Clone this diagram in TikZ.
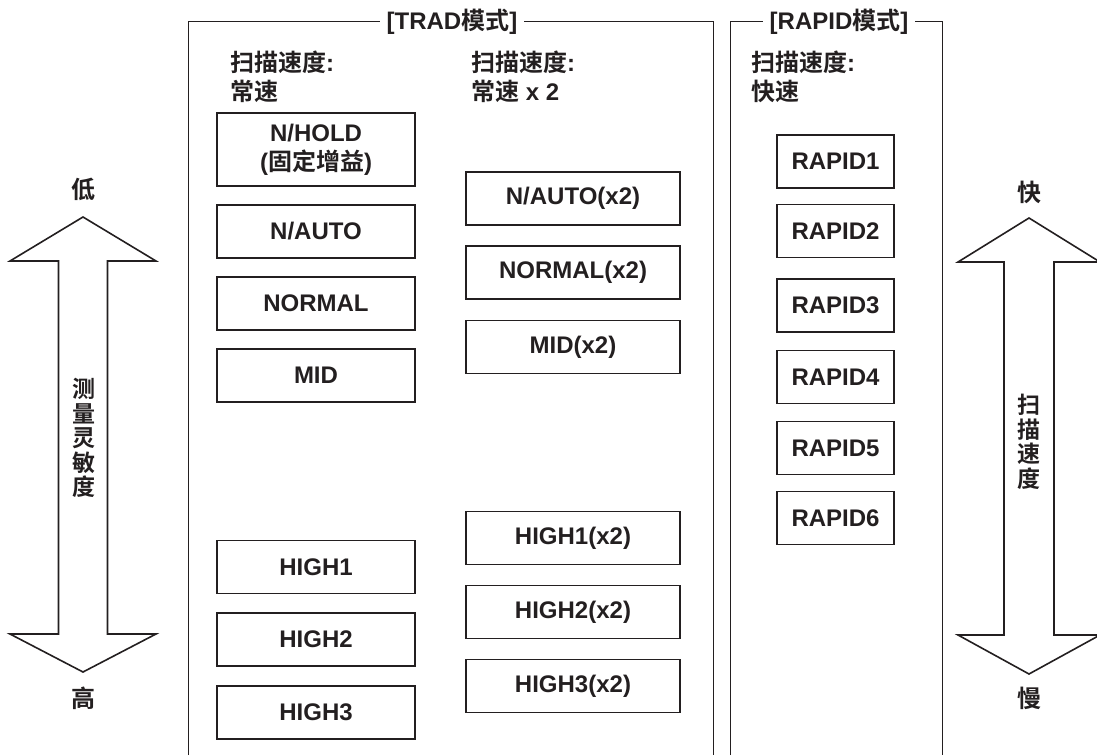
\documentclass[tikz,border=0pt]{standalone}
\usepackage{fontspec}
\setmainfont{Liberation Sans}
\newfontfamily\cjk{Noto Sans CJK SC}[BoldFont={Noto Sans CJK SC Bold}]
\definecolor{ink}{RGB}{35,31,32}
\begin{document}
\begin{tikzpicture}[x=1pt, y=-1pt,
    every node/.style={font=\bfseries\fontsize{24}{29}\selectfont, text=ink},
    modebox/.style={draw=ink, line width=1.5pt, inner sep=0pt, minimum height=53pt},
    tradbox/.style={modebox, minimum width=198pt},
    fastbox/.style={modebox, minimum width=214pt},
    rapidbox/.style={modebox, minimum width=117pt},
    frameline/.style={draw=ink, line width=0.9pt},
    bigarrow/.style={draw=ink, line width=1.6pt, line join=miter},
    modetitle/.style={fill=white, inner xsep=7pt, inner ysep=2pt},
    header/.style={anchor=west, align=left, inner sep=0pt},
    vtext/.style={align=center, inner sep=0pt, font=\bfseries\cjk\fontsize{23}{24.5}\selectfont}]
    \useasboundingbox (0,0) rectangle (1097,755);

    % Рамки режимов (снизу открыты)
    \draw[frameline] (188,755) -- (188,21) -- (713,21) -- (713,755);
    \draw[frameline] (730,755) -- (730,21) -- (942,21) -- (942,755);
    \node[modetitle] (tradTitle) at (452,22) {[TRAD{\cjk 模式}]};
    \node[modetitle] (rapidTitle) at (839,22) {[RAPID{\cjk 模式}]};

    % Заголовки колонок
    \node[header] (hdrNormal) at (230,77) {{\cjk 扫描速度}:\\{\cjk 常速}};
    \node[header] (hdrDouble) at (471,77) {{\cjk 扫描速度}:\\{\cjk 常速} x 2};
    \node[header] (hdrRapid) at (751,77) {{\cjk 扫描速度}:\\{\cjk 快速}};

    % 1-я колонка: обычная скорость
    \node[tradbox, minimum height=73pt, align=center] (nHold) at (316,149.5) {N/HOLD\\({\cjk 固定增益})};
    \node[tradbox] (nAuto) at (316,231.5) {N/AUTO};
    \node[tradbox] (normal) at (316,303.5) {NORMAL};
    \node[tradbox] (mid) at (316,375.5) {MID};
    \node[tradbox] (highA) at (316,567) {HIGH1};
    \node[tradbox] (highB) at (316,639.5) {HIGH2};
    \node[tradbox] (highC) at (316,712.5) {HIGH3};

    % 2-я колонка: скорость x 2
    \node[fastbox] (nAutoD) at (573,198.5) {N/AUTO(x2)};
    \node[fastbox] (normalD) at (573,272.5) {NORMAL(x2)};
    \node[fastbox] (midD) at (573,347) {MID(x2)};
    \node[fastbox] (highAD) at (573,538) {HIGH1(x2)};
    \node[fastbox] (highBD) at (573,612) {HIGH2(x2)};
    \node[fastbox] (highCD) at (573,686) {HIGH3(x2)};

    % 3-я колонка: RAPID
    \node[rapidbox] (rapidA) at (835.5,161.5) {RAPID1};
    \node[rapidbox] (rapidB) at (835.5,231) {RAPID2};
    \node[rapidbox] (rapidC) at (835.5,305.5) {RAPID3};
    \node[rapidbox] (rapidD) at (835.5,377) {RAPID4};
    \node[rapidbox] (rapidE) at (835.5,448) {RAPID5};
    \node[rapidbox] (rapidF) at (835.5,518) {RAPID6};

    % Левая двойная стрелка (чувствительность)
    \draw[bigarrow] (83,217) -- (156,261) -- (107.5,261) -- (107.5,634) -- (156,634)
        -- (83,672) -- (10,634) -- (58.5,634) -- (58.5,261) -- (10,261) -- cycle;
    \node (lowLbl) at (83,189) {\cjk 低};
    \node (highLbl) at (83,698) {\cjk 高};
    \node[vtext] (sensLbl) at (84,438) {测\\量\\灵\\敏\\度};

    % Правая двойная стрелка (скорость)
    \draw[bigarrow] (1029,218) -- (1100,262) -- (1054,262) -- (1054,635) -- (1100,635)
        -- (1029,674) -- (958,635) -- (1004,635) -- (1004,262) -- (958,262) -- cycle;
    \node (fastLbl) at (1029,192) {\cjk 快};
    \node (slowLbl) at (1029,698) {\cjk 慢};
    \node[vtext] (speedLbl) at (1029,442) {扫\\描\\速\\度};

\end{tikzpicture}
\end{document}
